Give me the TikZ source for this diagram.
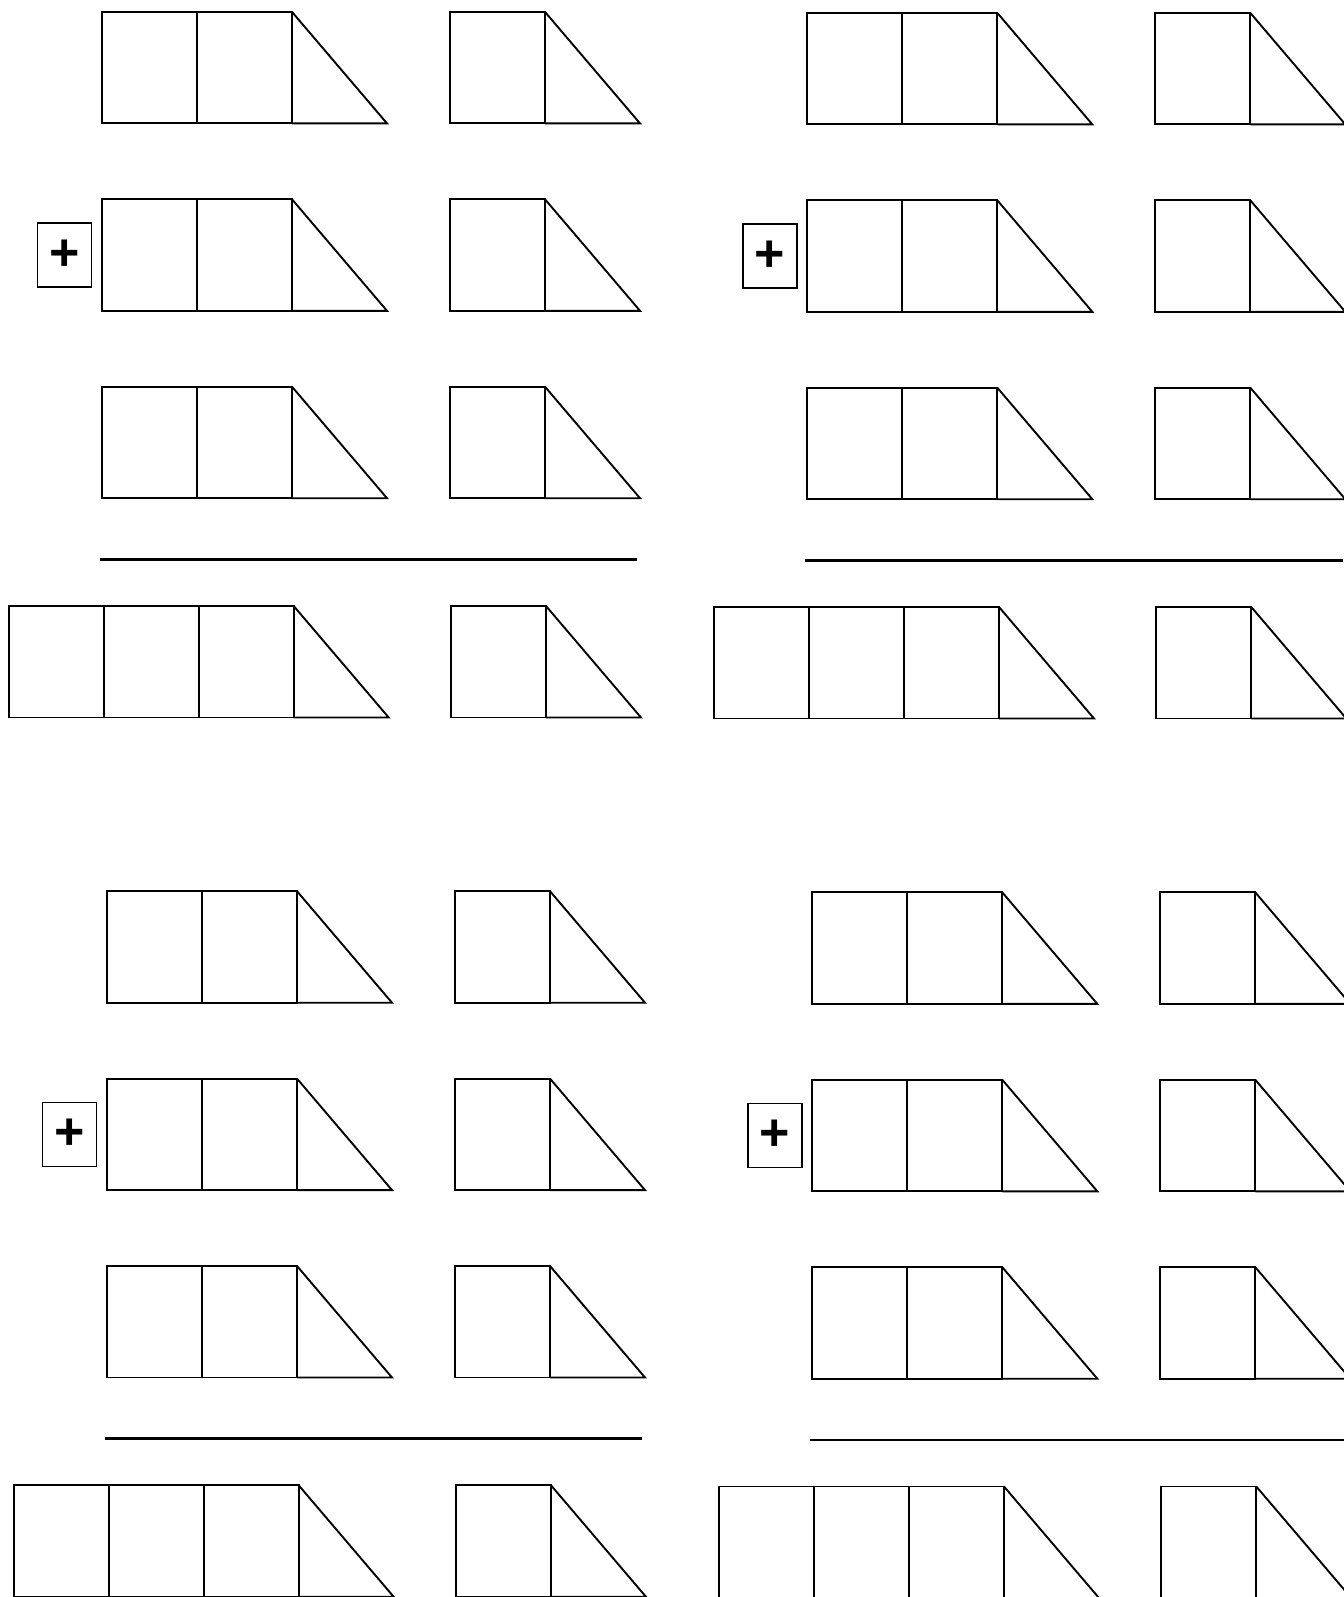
\documentclass[tikz,border=0pt]{standalone}
\usepackage{fontspec}
\setsansfont{Liberation Sans}
\usetikzlibrary{positioning}
\tikzset{
	cell/.style={line width=0.95pt, line join=miter},
	sumrule/.style={line width=1.25pt},
	plusbox/.style={draw, line width=0.8pt, minimum width=27pt, minimum height=32pt,
		inner sep=0pt, font=\sffamily\bfseries\fontsize{26}{26}\selectfont}
}
% squares followed by a right triangle
\newcommand{\cellRow}[3]{%
	\foreach \k in {1,...,#3}
		\draw[cell] ({#1+(\k-1)*95},#2) rectangle ++(95,111.5);
	\draw[cell] ({#1+#3*95},#2) -- ++(95,111.5) -- ++(-95,0);}
% one addition panel
\newcommand{\sumPanel}[3]{%
	\begin{scope}[shift={(#1,#2)}]
		\foreach \ry in {11.9,199.3,386.7} {
			\cellRow{102}{\ry}{2}
			\cellRow{450}{\ry}{1}}
		\coordinate (#3row) at (102,255);
		\node[plusbox, left=4.9pt of #3row] (#3plus) {+};
		\draw[sumrule] (100,559.3) -- (637.3,559.3);
		\cellRow{8.7}{606}{3}
		\cellRow{451}{606}{1}
	\end{scope}}
\begin{document}
\begin{tikzpicture}[x=0.5pt, y=-0.5pt]
	\useasboundingbox (0,0) rectangle (1344,1597);
	\sumPanel{0}{0}{tl}
	\sumPanel{705.3}{1}{tr}
	\sumPanel{5}{879.3}{bl}
	\sumPanel{710.3}{880.5}{br}
\end{tikzpicture}
\end{document}
